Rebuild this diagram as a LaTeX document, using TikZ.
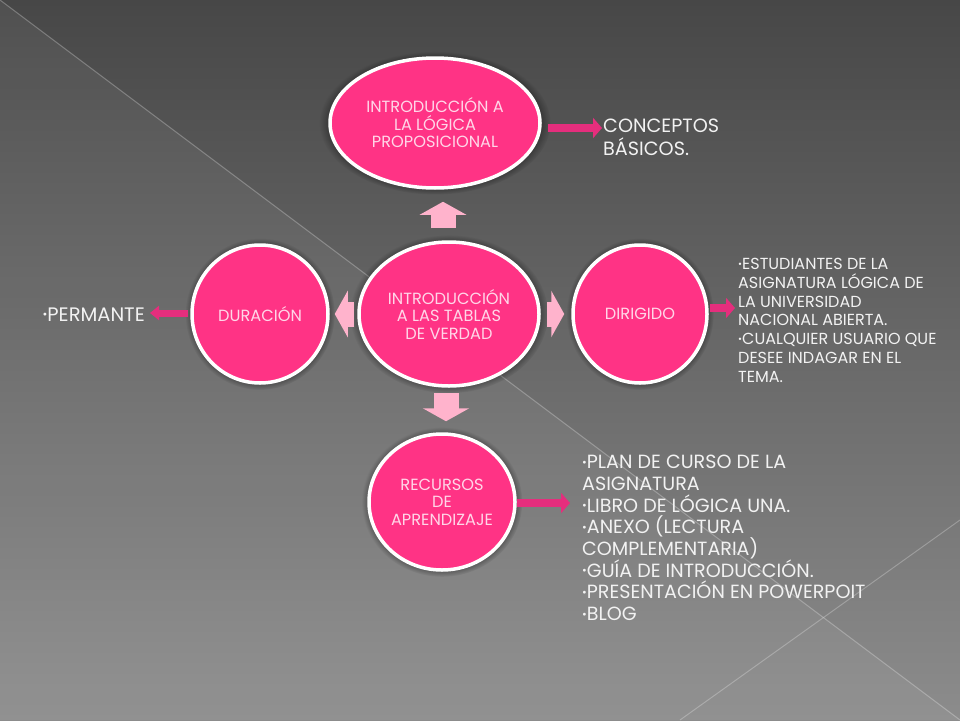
\documentclass[tikz,border=0pt]{standalone}
\usepackage{fontspec}
\setmainfont{Poppins}
\usepackage{tikz}
\usetikzlibrary{shapes.geometric,arrows.meta,calc,shadows,fadings}

\definecolor{rosa}{HTML}{FF3385}
\definecolor{rosaclaro}{HTML}{FFD6E8}
\definecolor{rosapalo}{HTML}{FFB3CC}
\definecolor{fucsia}{HTML}{E52E7D}
\definecolor{textoclaro}{HTML}{F2F2F2}
\definecolor{grisarriba}{HTML}{474747}
\definecolor{grisabajo}{HTML}{8C8C8C}
\newcommand{\vineta}{\raisebox{.12em}{\scalebox{.6}{\textbullet}}}

\begin{document}
\begin{tikzpicture}[x=1pt,y=-1pt,
  tema/.style={ellipse, fill=rosa, draw=white, line width=3.5pt, text=rosaclaro, align=center,
    inner sep=0pt, font=\fontsize{16.2}{17.5}\selectfont,
    circular glow={fill=black, opacity=.55, shadow scale=1.1}},
  bloque/.style={draw=rosapalo, line width=25pt, -{Triangle[width=46pt,length=13pt]}},
  enlace/.style={draw=fucsia, line width=8pt, -{Triangle[width=20pt,length=9pt]}},
  lista/.style={text=textoclaro, align=left, inner sep=0pt, anchor=north west}]

\useasboundingbox (0,0) rectangle (960,720);

% fondo
\fill[top color=grisarriba, bottom color=grisabajo] (0,0) rectangle (960,720);
\fill[white, opacity=.05] (0,0) -- (960,720) -- (0,720) -- cycle;
\draw[white, opacity=.25, line width=1pt] (0,0) -- (960,720);
\draw[white, opacity=.25, line width=1pt] (680,720) -- (960,520);

% temas
\node[tema, minimum width=210pt, minimum height=130pt] (top) at (435,123) {INTRODUCCIÓN A\\LA LÓGICA\\PROPOSICIONAL};
\node[tema, minimum width=180pt, minimum height=144pt] (ctr) at (449,314) {INTRODUCCIÓN\\A LAS TABLAS\\DE VERDAD};
\node[tema, minimum width=136pt, minimum height=138pt] (dur) at (260,314) {DURACIÓN};
\node[tema, minimum width=134pt, minimum height=138pt] (dir) at (640,314) {DIRIGIDO};
\node[tema, minimum width=146pt, minimum height=136pt] (rec) at (442,502) {RECURSOS\\DE\\APRENDIZAJE};

% textos
\node[lista, font=\fontsize{19.2}{23}\selectfont] (conc) at (603,119) {CONCEPTOS\\BÁSICOS.};
\node[lista, font=\fontsize{16}{18.8}\selectfont] (quien) at (738,258) {\vineta ESTUDIANTES DE LA\\ASIGNATURA LÓGICA DE\\LA UNIVERSIDAD\\NACIONAL ABIERTA.\\\vineta CUALQUIER USUARIO QUE\\DESEE INDAGAR EN EL\\TEMA.};
\node[lista, font=\fontsize{19.1}{21.7}\selectfont] (mat) at (582,455) {\vineta PLAN DE CURSO DE LA\\ASIGNATURA\\\vineta LIBRO DE LÓGICA UNA.\\\vineta ANEXO (LECTURA\\COMPLEMENTARIA)\\\vineta GUÍA DE INTRODUCCIÓN.\\\vineta PRESENTACIÓN EN POWERPOIT\\\vineta BLOG};
\node[lista, anchor=base east, font=\fontsize{19.5}{22}\selectfont] (perm) at (145,321) {\vineta PERMANTE};

% flechas
\draw[bloque] ($(ctr.north)+(-6,-12)$) -- ($(top.south)+(8,12)$);
\draw[bloque] ($(ctr.west)+(-3,0)$) -- ($(dur.east)+(5,0)$);
\draw[bloque] ($(ctr.east)+(6,0)$) -- ($(dir.west)+(-7,0)$);
\draw[bloque] ($(ctr.south)+(-3,5)$) -- ($(rec.north)+(4,-11)$);

\draw[enlace] ($(top.east)+(6,5)$) -- ($(conc.north west)+(-1,9)$);
\draw[enlace] ($(dir.east)+(1,-6)$) -- ($(quien.north west)+(-3,50)$);
\draw[enlace] ($(rec.east)+(0,1)$) -- ($(mat.north west)+(-12,48)$);
\draw[enlace, line width=7pt, -{Triangle[width=14pt,length=9pt]}] ($(dur.west)+(-2,-1)$) -- ($(perm.base east)+(5,-8)$);

\end{tikzpicture}
\end{document}
